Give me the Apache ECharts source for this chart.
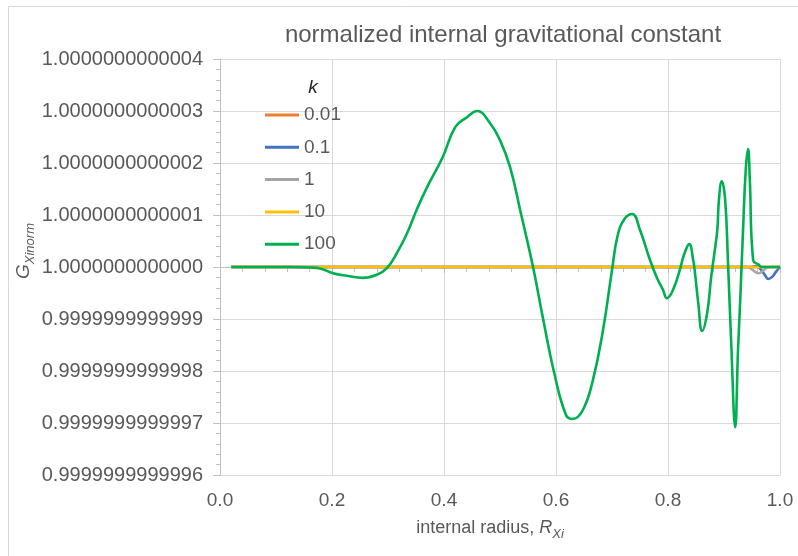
<!DOCTYPE html>
<html>
<head>
<meta charset="utf-8">
<script src="https://cdn.jsdelivr.net/npm/echarts@6/dist/echarts.min.js"></script>
<style>html,body{margin:0;padding:0;background:#fff;}#c{width:798px;height:556px;}</style>
</head>
<body>
<div id="c"></div>
<script>
// x = internal radius R_Xi ; y = deviation of G_Xinorm from 1, in units of 1e-13
const seriesNames = ['0.01', '0.1', '1', '10', '100'];
const seriesColors = ['#ED7D31', '#4472C4', '#A5A5A5', '#FFC000', '#00B050'];
const yTickUnits = [-4, -3, -2, -1, 0, 1, 2, 3, 4];

const k001 = [[0.02, 0], [0.2, 0], [0.4, 0], [0.6, 0], [0.8, 0], [1.0, 0]];
const k01 = [[0.02, 0], [0.2, 0], [0.4, 0], [0.6, 0], [0.8, 0], [0.95, 0], [0.958, 0.02], [0.966, -0.05], [0.974, -0.17], [0.979, -0.23], [0.986, -0.19], [0.993, -0.09], [1.0, 0]];
const k1 = [[0.02, 0], [0.2, 0], [0.4, 0], [0.6, 0], [0.8, 0], [0.94, 0], [0.948, -0.03], [0.955, -0.09], [0.962, -0.12], [0.969, -0.08], [0.976, -0.02], [0.985, 0], [1.0, 0]];
const k10 = [[0.02, 0], [0.2, 0], [0.4, 0], [0.6, 0], [0.8, 0], [0.96, 0], [1.0, 0]];
const k100 = [
  [0.020, 0], [0.071, 0], [0.125, 0], [0.161, -0.01], [0.179, -0.03], [0.202, -0.12],
  [0.227, -0.17], [0.255, -0.21], [0.280, -0.15], [0.298, -0.02], [0.316, 0.27],
  [0.334, 0.65], [0.352, 1.12], [0.370, 1.54], [0.398, 2.12], [0.420, 2.69],
  [0.441, 2.88], [0.459, 3.00], [0.482, 2.77], [0.500, 2.44], [0.518, 1.92],
  [0.538, 1.0], [0.559, 0], [0.577, -1.0], [0.596, -2.0], [0.618, -2.85],
  [0.630, -2.92], [0.648, -2.75], [0.666, -2.17], [0.684, -1.21], [0.700, -0.06],
  [0.710, 0.6], [0.722, 0.92], [0.736, 1.02], [0.750, 0.71], [0.768, 0.13],
  [0.780, -0.2], [0.791, -0.44], [0.798, -0.6], [0.809, -0.44], [0.821, -0.06],
  [0.829, 0.25], [0.838, 0.44], [0.845, 0.13], [0.848, -0.1], [0.854, -0.69],
  [0.861, -1.23], [0.870, -0.88], [0.877, -0.2], [0.882, 0.2], [0.888, 0.71],
  [0.891, 1.3], [0.896, 1.65], [0.902, 1.3], [0.907, 0.13], [0.913, -1.5],
  [0.920, -3.08], [0.925, -1.6], [0.929, -0.63], [0.934, 0.71], [0.939, 1.9],
  [0.943, 2.27], [0.946, 1.7], [0.952, 0.13], [0.961, 0.05], [0.968, 0], [1.0, 0]
];
const seriesData = [k001, k01, k1, k10, k100];

function yLabel(v) {
  const n = Math.round(v);
  if (n >= 0) return '1.000000000000' + n;
  return '0.999999999999' + (10 + n);
}

const chart = echarts.init(document.getElementById('c'), null, { renderer: 'canvas' });
const FONT = 'Liberation Sans, Arial, sans-serif';
const TXT = '#595959';

chart.setOption({
  animation: false,
  backgroundColor: '#fff',
  textStyle: { fontFamily: FONT },
  title: {
    text: 'normalized internal gravitational constant',
    left: 503, top: 23, textAlign: 'center', padding: 0,
    textStyle: { color: TXT, fontSize: 24, fontWeight: 'normal', fontFamily: FONT }
  },
  grid: { left: 220, right: 18, top: 59, bottom: 81 },
  legend: {
    orient: 'vertical', left: 265, top: 105, padding: 0,
    icon: 'rect', itemWidth: 34, itemHeight: 3, itemGap: 12.3,
    data: seriesNames,
    textStyle: { color: TXT, fontSize: 19, lineHeight: 20, fontFamily: FONT }
  },
  xAxis: {
    type: 'value', min: 0, max: 1, interval: 0.2,
    axisLine: { show: true, lineStyle: { color: '#bfbfbf', width: 1 } },
    axisTick: { show: true, length: 6, lineStyle: { color: '#bfbfbf' } },
    minorTick: { show: true, splitNumber: 5, length: 5, lineStyle: { color: '#bfbfbf' } },
    splitLine: { show: true, lineStyle: { color: '#d9d9d9', width: 1 } },
    axisLabel: { color: TXT, fontSize: 19, margin: 16, fontFamily: FONT, formatter: v => v.toFixed(1) }
  },
  yAxis: {
    type: 'value', min: -4, max: 4, interval: 1,
    axisLine: { show: true, lineStyle: { color: '#bfbfbf', width: 1 } },
    axisTick: { show: true, length: 7, lineStyle: { color: '#bfbfbf' } },
    minorTick: { show: true, splitNumber: 5, length: 4, lineStyle: { color: '#bfbfbf' } },
    splitLine: { show: true, lineStyle: { color: '#d9d9d9', width: 1 } },
    axisLabel: { color: TXT, fontSize: 20, margin: 17, fontFamily: FONT, formatter: yLabel }
  },
  graphic: [
    { type: 'rect', shape: { x: 8.5, y: 6.5, width: 820, height: 600 }, style: { fill: 'none', stroke: '#d9d9d9', lineWidth: 1 }, z: -10 },
    { type: 'text', x: 313, y: 88, style: { text: 'k', font: 'italic 19px ' + FONT, fill: '#262626', align: 'center', verticalAlign: 'middle' } },
    { type: 'text', x: 490, y: 528, style: {
      text: '{a|internal radius, }{r|R}{s|Xi}', align: 'center', verticalAlign: 'middle',
      rich: {
        a: { fontSize: 18, fontFamily: FONT, fill: TXT, lineHeight: 26 },
        r: { fontSize: 18, fontFamily: FONT, fontStyle: 'italic', fill: TXT, lineHeight: 26 },
        s: { fontSize: 13, fontFamily: FONT, fontStyle: 'italic', fill: TXT, lineHeight: 14, verticalAlign: 'bottom' }
      } } },
    { type: 'text', x: 24, y: 251, rotation: Math.PI / 2, style: {
      text: '{g|G}{s|Xinorm}', align: 'center', verticalAlign: 'middle',
      rich: {
        g: { fontSize: 19, fontFamily: FONT, fontStyle: 'italic', fill: TXT, lineHeight: 26 },
        s: { fontSize: 13, fontFamily: FONT, fontStyle: 'italic', fill: TXT, lineHeight: 14, verticalAlign: 'bottom' }
      } } }
  ],
  series: seriesNames.map((name, i) => ({
    name: name, type: 'line', data: seriesData[i],
    showSymbol: false, symbol: 'none', smooth: 0.45,
    lineStyle: { color: seriesColors[i], width: 2.6 },
    itemStyle: { color: seriesColors[i] },
    z: 2 + i
  }))
});
</script>
</body>
</html>
